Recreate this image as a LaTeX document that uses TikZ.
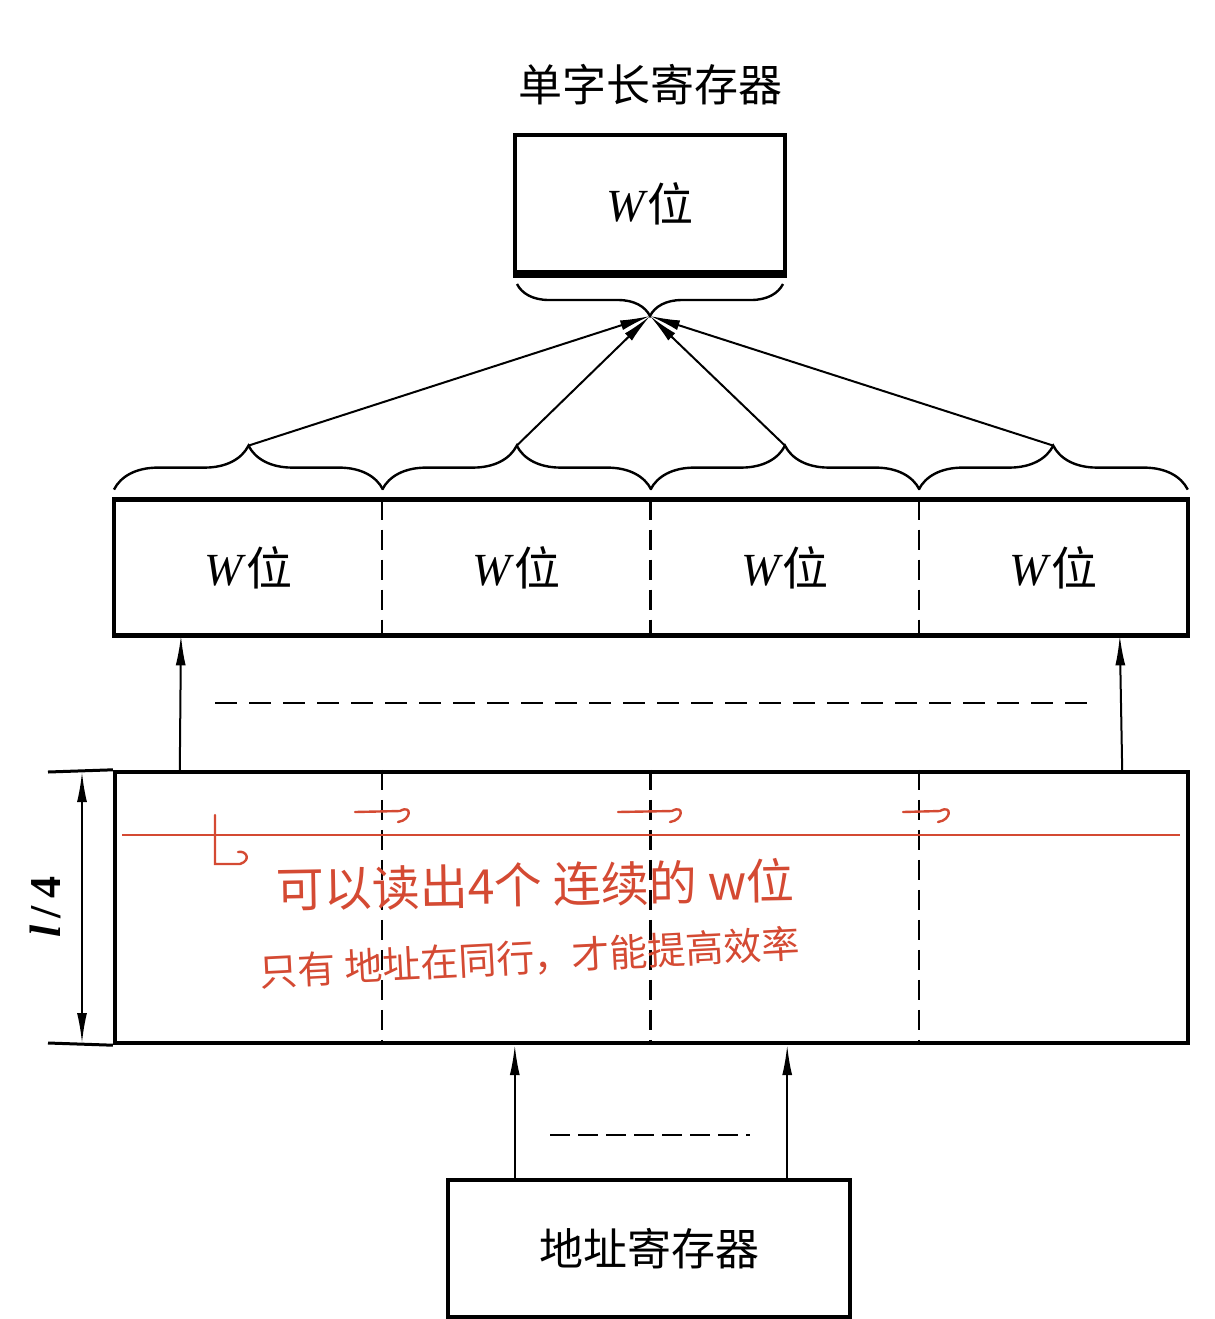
\documentclass[tikz,border=0pt]{standalone}
\usepackage{fontspec}
\setmainfont{Liberation Serif}
\newfontfamily\cjk{Noto Sans CJK SC}
\usetikzlibrary{%
        arrows.meta,
        decorations.pathreplacing
    }
\definecolor{note}{HTML}{D44A33}
\newcommand{\wbits}{\textit{W}{\cjk 位}}
\tikzset{%
    reg/.style={draw, line width=2.2pt, inner sep=0pt},
    cell/.style={minimum width=134.125pt, minimum height=67.5pt, inner sep=0pt},
    wbit/.style={font=\fontsize{23}{23}\selectfont},
    big/.style={font=\cjk\fontsize{22}{22}\selectfont},
    up/.style={-{Latex[length=15pt, width=5pt]}, line width=1pt},
    curly/.style={decorate, decoration={brace, amplitude=#1}, line width=1.2pt},
    divider/.style={line width=1.2pt, dash pattern=on 10pt off 5pt},
    gap/.style={line width=1.3pt, dash pattern=on 11pt off 6pt},
    scrawl/.style={note, line width=1.2pt, line cap=round}
}

\begin{document}
\begin{tikzpicture}[x=0.5pt, y=-0.5pt]

    \useasboundingbox (0, 0) rectangle (1215, 1319);

    %%%%%%%%%%%%
    % Single-word register
    \node[big] (title) at (650, 85) {单字长寄存器};
    \node[reg, wbit, minimum width=135pt, minimum height=68.5pt] (word)
        at (650, 203.5) {\wbits};
    \draw[line width=3.5pt] (word.south west) -- (word.south east);

    \draw[curly=16pt] (783, 284) -- (517, 284);
    \coordinate (join) at (650, 316);

    %%%%%%%%%%%%
    % Row of four words
    \foreach \i in {0, ..., 3}{%
        \node[cell, wbit] (cell-\i) at (248.5 + \i * 268.25, 567.5) {\wbits};
    };
    \draw[line width=2.2pt] (cell-0.north west) rectangle (cell-3.south east);
    \foreach \i in {1, 2, 3}{%
        \draw[divider] (cell-\i.north west) -- (cell-\i.south west);
    };

    \foreach \i in {0, ..., 3}{%
        \draw[curly=22pt]
            ([yshift=5pt] cell-\i.north west) -- ([yshift=5pt] cell-\i.north east);
        \coordinate (tip-\i) at ([yshift=27pt] cell-\i.north);
        \draw[up] (tip-\i) -- (join);
    };

    %%%%%%%%%%%%
    % Memory block
    \node[reg, minimum width=536.5pt, minimum height=135.5pt] (mem)
        at (651.5, 907.5) {};
    \foreach \i in {1, 2, 3}{%
        \draw[divider] (mem.north -| cell-\i.west) -- (mem.south -| cell-\i.west);
    };

    \draw[up] ([xshift=33.5pt] mem.north west) -- ([xshift=33.5pt] cell-0.south west);
    \draw[up] ([xshift=-34pt] mem.north east) -- ([xshift=-34pt] cell-3.south east);
    \draw[gap] (215, 703) -- (1090, 703);

    % Height l/4
    \coordinate (ext-top) at (48, 772);
    \coordinate (ext-bot) at (48, 1043);
    \draw[line width=1.5pt] (ext-top) -- (mem.north west);
    \draw[line width=1.5pt] (ext-bot) -- (mem.south west);
    \coordinate (dim-top) at (82, 772);
    \coordinate (dim-bot) at (82, 1043);
    \draw[{Latex[length=15pt, width=5pt]}-{Latex[length=15pt, width=5pt]},
        line width=1pt] (dim-top) -- (dim-bot);
    \node[rotate=90, font=\bfseries\fontsize{22}{22}\selectfont] (quarter)
        at (45, 907) {\textit{l}\,/\,4};

    %%%%%%%%%%%%
    % Address register
    \node[reg, big, minimum width=201pt, minimum height=68.5pt] (addr)
        at (649, 1248.5) {地址寄存器};
    \draw[up] ([xshift=34.5pt] addr.north west) -- ([xshift=34.5pt] addr.north west |- mem.south);
    \draw[up] ([xshift=-32.5pt] addr.north east) -- ([xshift=-32.5pt] addr.north east |- mem.south);
    \draw[gap, dash pattern=on 10pt off 4pt] (550, 1135) -- (750, 1135);

    %%%%%%%%%%%%
    % Hand notes
    \draw[note, line width=0.7pt] (122, 835) -- (1180, 835);
    \draw[scrawl] (215, 815) -- (215, 864) -- (240, 864)
        .. controls (252, 860) and (246, 850) .. (238, 852);
    \foreach \a/\b in {355/400, 618/672, 903/940}{%
        \draw[scrawl] (\a, 812) -- (\b, 811)
            .. controls (\b + 12, 804) and (\b + 12, 820) .. (\b - 2, 822);
    };
    \node[note, font=\cjk\fontsize{24}{24}\selectfont, rotate=1] (note-1)
        at (535, 885) {可以读出4个\ 连续的\ w位};
    \node[note, font=\cjk\fontsize{19}{19}\selectfont, rotate=3] (note-2)
        at (530, 958) {只有\ 地址在同行，才能提高效率};

\end{tikzpicture}
\end{document}
